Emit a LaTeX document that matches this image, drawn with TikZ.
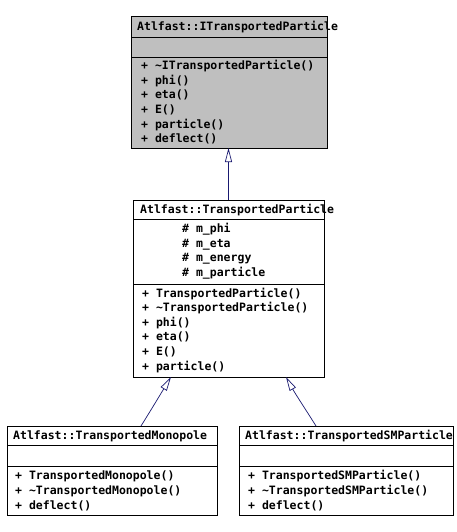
\documentclass[tikz,border=0pt]{standalone}
\usepackage{fontspec}
\newfontfamily\dxfont{DejaVu Sans Mono}
\usetikzlibrary{arrows.meta}
\definecolor{boxgray}{RGB}{191,191,191}
\definecolor{edgeblue}{RGB}{25,25,112}
\tikzset{
  cls/.style={draw=black, line width=0.9pt, inner sep=0pt, outer sep=0pt, anchor=north west},
  txt/.style={font=\dxfont\bfseries\fontsize{11.5}{13}\selectfont, inner sep=0pt, anchor=west, text height=8pt, text depth=2pt, yshift=-1.5pt},
  inh/.style={draw=edgeblue, line width=0.7pt, -{Triangle[open,length=14pt,width=7pt]}},
}
\begin{document}
\begin{tikzpicture}[x=1pt,y=-1pt]
\useasboundingbox (0,0) rectangle (457,532);
% ---- ITransportedParticle
\node[cls, fill=boxgray, minimum width=196pt, minimum height=21pt] (Itit) at (131,16) {};
\node[cls, fill=boxgray, minimum width=196pt, minimum height=20pt] (Iatt) at (Itit.south west) {};
\node[cls, fill=boxgray, minimum width=196pt, minimum height=91pt] (Imet) at (Iatt.south west) {};
\node[txt] (It0) at (137,26) {Atlfast::ITransportedParticle};
\node[txt] (It1) at (141,65) {+ \textasciitilde ITransportedParticle()};
\node[txt] (It2) at (141,80) {+ phi()};
\node[txt] (It3) at (141,94.5) {+ eta()};
\node[txt] (It4) at (141,109) {+ E()};
\node[txt] (It5) at (141,124) {+ particle()};
\node[txt] (It6) at (141,138) {+ deflect()};
% ---- TransportedParticle
\node[cls, fill=white, minimum width=191pt, minimum height=19pt] (Ttit) at (133,200) {};
\node[cls, fill=white, minimum width=191pt, minimum height=65pt] (Tatt) at (Ttit.south west) {};
\node[cls, fill=white, minimum width=191pt, minimum height=93pt] (Tmet) at (Tatt.south west) {};
\node[txt] (Tt0) at (140,209) {Atlfast::TransportedParticle};
\node[txt] (Ta1) at (182,228) {\# m\_phi};
\node[txt] (Ta2) at (182,243) {\# m\_eta};
\node[txt] (Ta3) at (182,257) {\# m\_energy};
\node[txt] (Ta4) at (182,272) {\# m\_particle};
\node[txt] (Tm1) at (142,293) {+ TransportedParticle()};
\node[txt] (Tm2) at (142,307) {+ \textasciitilde TransportedParticle()};
\node[txt] (Tm3) at (142,322) {+ phi()};
\node[txt] (Tm4) at (142,336) {+ eta()};
\node[txt] (Tm5) at (142,351) {+ E()};
\node[txt] (Tm6) at (142,366) {+ particle()};
% ---- TransportedMonopole
\node[cls, fill=white, minimum width=210pt, minimum height=19pt] (Mtit) at (7,426) {};
\node[cls, fill=white, minimum width=210pt, minimum height=21pt] (Matt) at (Mtit.south west) {};
\node[cls, fill=white, minimum width=210pt, minimum height=49pt] (Mmet) at (Matt.south west) {};
\node[txt] (Mt0) at (13,435) {Atlfast::TransportedMonopole};
\node[txt] (Mm1) at (15,475) {+ TransportedMonopole()};
\node[txt] (Mm2) at (15,490) {+ \textasciitilde TransportedMonopole()};
\node[txt] (Mm3) at (15,505) {+ deflect()};
% ---- TransportedSMParticle
\node[cls, fill=white, minimum width=214pt, minimum height=19pt] (Stit) at (239,426) {};
\node[cls, fill=white, minimum width=214pt, minimum height=21pt] (Satt) at (Stit.south west) {};
\node[cls, fill=white, minimum width=214pt, minimum height=49pt] (Smet) at (Satt.south west) {};
\node[txt] (St0) at (245,435) {Atlfast::TransportedSMParticle};
\node[txt] (Sm1) at (248,475) {+ TransportedSMParticle()};
\node[txt] (Sm2) at (248,490) {+ \textasciitilde TransportedSMParticle()};
\node[txt] (Sm3) at (248,505) {+ deflect()};
% ---- inheritance
\draw[inh] (Ttit.north) -- (Ttit.north |- Imet.south);
\draw[inh] ([xshift=134pt]Mtit.north west) .. controls (151,410) and (160,395) .. ([xshift=38pt]Tmet.south west);
\draw[inh] ([xshift=77pt]Stit.north west) .. controls (306,410) and (296,395) .. ([xshift=153pt]Tmet.south west);
\end{tikzpicture}
\end{document}
